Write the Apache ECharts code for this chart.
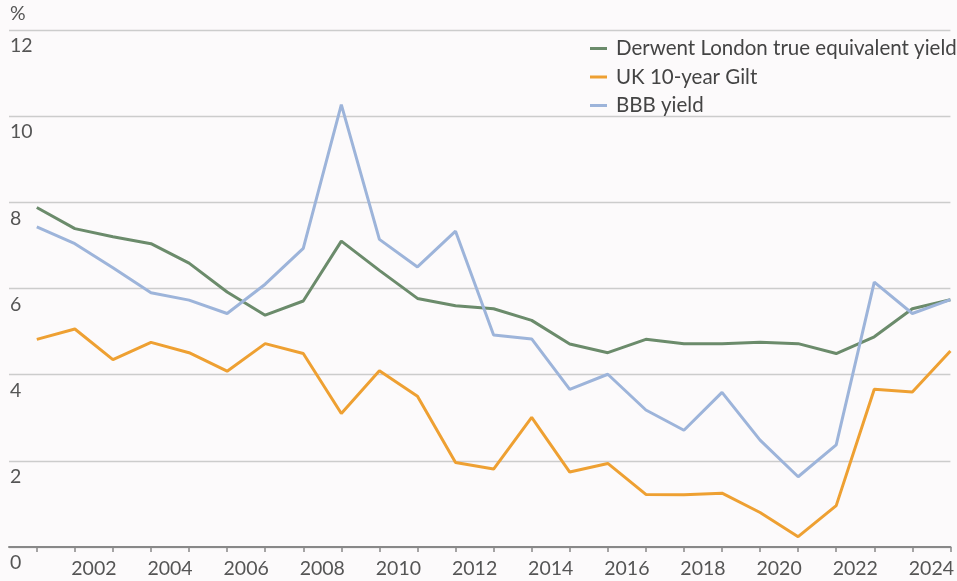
<!DOCTYPE html>
<html>
<head>
<meta charset="utf-8">
<script src="https://cdn.jsdelivr.net/npm/echarts@6/dist/echarts.min.js"></script>
<style>
  html, body { margin: 0; padding: 0; background: #fcfafb; }
  #chart { width: 957px; height: 581px; }
</style>
</head>
<body>
<div id="chart"></div>
<script>
var years = [2000, 2001, 2002, 2003, 2004, 2005, 2006, 2007, 2008, 2009, 2010, 2011, 2012,
  2013, 2014, 2015, 2016, 2017, 2018, 2019, 2020, 2021, 2022, 2023, 2024];
var derwent = [7.88, 7.39, 7.20, 7.04, 6.59, 5.92, 5.38, 5.71, 7.10, 6.42, 5.77, 5.60, 5.53,
  5.26, 4.71, 4.51, 4.82, 4.72, 4.72, 4.75, 4.72, 4.49, 4.88, 5.53, 5.74];
var gilt = [4.82, 5.06, 4.35, 4.75, 4.51, 4.08, 4.72, 4.49, 3.10, 4.09, 3.50, 1.96, 1.81,
  3.01, 1.74, 1.94, 1.22, 1.21, 1.25, 0.80, 0.24, 0.96, 3.66, 3.60, 4.55];
var bbb = [7.43, 7.04, 6.48, 5.90, 5.73, 5.42, 6.10, 6.93, 10.27, 7.14, 6.50, 7.33, 4.92,
  4.83, 3.66, 4.01, 3.18, 2.71, 3.59, 2.48, 1.63, 2.37, 6.15, 5.42, 5.74];
var yearLabels = [2002, 2004, 2006, 2008, 2010, 2012, 2014, 2016, 2018, 2020, 2022, 2024];

function pairs(vals) {
  var out = [];
  for (var i = 0; i < vals.length; i++) {
    out.push([years[i], vals[i]]);
  }
  return out;
}

var font = 'Lato, "Noto Sans", sans-serif';
var chart = echarts.init(document.getElementById('chart'));

var option = {
  backgroundColor: '#fcfafb',
  animation: false,
  grid: { left: 9, right: 0, top: 30, bottom: 34, containLabel: false },
  legend: {
    orient: 'vertical',
    left: 585,
    top: 33,
    itemWidth: 17,
    itemHeight: 3,
    itemGap: 7.5,
    icon: 'rect',
    textStyle: { fontFamily: font, fontSize: 20.5, color: '#444', lineHeight: 20, padding: [0, 0, 0, 4] },
    data: ['Derwent London true equivalent yield', 'UK 10-year Gilt', 'BBB yield']
  },
  xAxis: {
    type: 'value',
    min: 1999.27,
    max: 2024,
    axisLine: { show: true, lineStyle: { color: '#888', width: 2 } },
    axisTick: {
      show: true,
      length: 5,
      lineStyle: { color: '#888', width: 1.5 },
      customValues: years
    },
    splitLine: { show: false },
    axisLabel: {
      customValues: yearLabels.map(function (y) { return y - 0.5; }),
      formatter: function (v) { return String(Math.round(v + 0.5)); },
      margin: 12,
      fontFamily: font,
      fontSize: 19.5,
      color: '#555'
    }
  },
  yAxis: {
    type: 'value',
    min: 0,
    max: 12,
    interval: 2,
    name: '%',
    nameLocation: 'end',
    nameGap: 6,
    nameTextStyle: { fontFamily: font, fontSize: 19.5, color: '#555', align: 'left', padding: [0, 0, 0, 1] },
    axisLine: { show: false },
    axisTick: { show: false },
    splitLine: { lineStyle: { color: '#cccccc', width: 1.3 } },
    axisLabel: {
      inside: true,
      margin: 1,
      verticalAlign: 'top',
      padding: [6, 0, 0, 0],
      fontFamily: font,
      fontSize: 19.5,
      color: '#555'
    }
  },
  series: [
    {
      name: 'Derwent London true equivalent yield',
      type: 'line',
      symbol: 'none',
      color: '#6b8b6b',
      lineStyle: { width: 3, color: '#6b8b6b' },
      data: pairs(derwent)
    },
    {
      name: 'UK 10-year Gilt',
      type: 'line',
      symbol: 'none',
      color: '#eea032',
      lineStyle: { width: 3, color: '#eea032' },
      data: pairs(gilt)
    },
    {
      name: 'BBB yield',
      type: 'line',
      symbol: 'none',
      color: '#9db4da',
      lineStyle: { width: 3, color: '#9db4da' },
      data: pairs(bbb)
    }
  ]
};
chart.setOption(option);
</script>
</body>
</html>
